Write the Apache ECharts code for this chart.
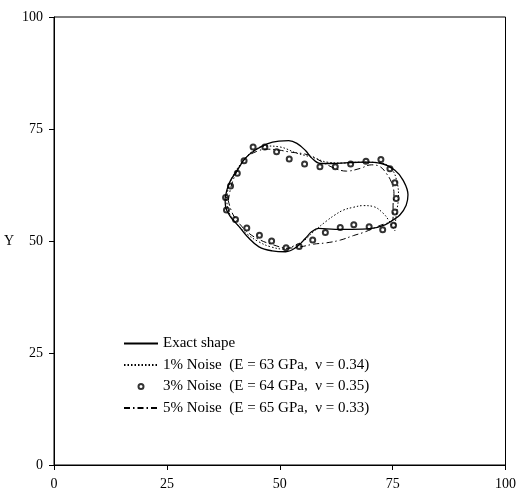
<!DOCTYPE html>
<html><head><meta charset="utf-8">
<script src="https://cdn.jsdelivr.net/npm/echarts@6/dist/echarts.min.js"></script>
<style>html,body{margin:0;padding:0;background:#fff}#c{width:519px;height:492px}</style>
</head><body><div id="c"></div>
<script>
var seriesNames = ['Exact shape', '1% Noise  (E = 63 GPa,  ν = 0.34)', '3% Noise  (E = 64 GPa,  ν = 0.35)', '5% Noise  (E = 65 GPa,  ν = 0.33)'];
var axisTicks = [0, 25, 50, 75, 100];

var exactShape = [[37.9,59.5],[38.8,62.9],[40.6,65.8],[42.4,68.5],[44.6,70.3],[47.2,71.7],[49.8,72.3],[52.0,72.4],[53.8,71.8],[55.7,70.2],[57.1,68.5],[59.0,67.3],[61.5,67.3],[65.2,67.5],[68.9,67.6],[72.5,67.3],[75.5,65.8],[77.3,63.6],[78.4,60.3],[78.0,58.0],[76.6,55.8],[75.1,54.7],[73.3,53.6],[70.3,52.8],[65.9,52.6],[62.3,52.6],[58.6,52.8],[57.1,52.1],[55.7,50.6],[53.8,48.7],[51.3,47.6],[48.3,47.8],[45.4,48.7],[42.8,51.0],[41.0,53.2],[39.1,55.4],[38.0,57.7],[37.9,59.5]];

var noise1 = [[38.2,59.5],[38.8,62.5],[40.2,65.5],[42.0,68.0],[44.2,70.2],[47.0,71.2],[50.0,71.0],[53.8,69.6],[57.5,68.6],[60.5,67.6],[64.0,67.4],[68.0,67.6],[72.0,67.5],[74.8,66.0],[76.0,63.0],[76.3,60.0],[75.9,56.5],[75.6,54.0],[75.5,52.3],[74.2,54.5],[72.9,56.2],[70.7,57.7],[68.5,57.9],[66.2,57.5],[64.1,56.9],[62.2,55.8],[60.4,54.5],[57.5,52.1],[55.5,50.2],[53.1,48.9],[50.9,48.2],[48.0,48.7],[45.4,49.8],[42.7,51.6],[40.5,53.8],[38.8,56.3],[38.2,59.5]];

var noise3 = [[44.1,71.0],[46.7,71.0],[49.3,69.9],[52.1,68.3],[55.5,67.2],[58.9,66.6],[62.3,66.6],[65.7,67.2],[69.1,67.8],[72.4,68.2],[74.4,66.1],[75.5,63.0],[75.8,59.5],[75.5,56.5],[75.2,53.5],[72.8,52.5],[69.8,53.2],[66.4,53.6],[63.4,53.0],[60.1,51.9],[57.3,50.2],[54.3,48.8],[51.4,48.5],[48.2,50.0],[45.5,51.3],[42.7,52.9],[40.2,54.8],[38.2,56.9],[38.0,59.7],[39.1,62.3],[40.6,65.1],[42.1,67.9]];

var noise5 = [[38.6,59.0],[39.4,62.8],[40.8,66.0],[42.4,68.5],[44.9,70.0],[47.2,70.5],[49.8,70.3],[52.0,69.9],[56.4,69.2],[59.3,67.7],[62.0,66.3],[64.8,65.6],[67.8,66.2],[70.3,67.0],[72.2,66.6],[73.6,65.1],[74.7,63.2],[75.3,60.6],[75.1,58.0],[75.1,55.1],[71.8,53.3],[68.5,51.9],[66.3,51.2],[63.4,50.2],[60.4,49.6],[57.5,49.3],[54.6,48.7],[51.6,48.4],[48.7,49.1],[45.7,50.2],[43.2,51.7],[41.3,53.6],[39.6,56.0],[38.6,59.0]];

var font = 'Liberation Serif';
var chart = echarts.init(document.getElementById('c'), null, {renderer: 'canvas'});
var axisCommon = {
  type: 'value', min: 0, max: 100, interval: 25,
  axisLine: {show: true, onZero: false, lineStyle: {color: '#000', width: 1}},
  axisTick: {show: true, inside: false, length: 5, lineStyle: {color: '#000'}},
  splitLine: {show: false},
  axisLabel: {color: '#000', fontFamily: font, fontSize: 14, margin: 11,
    formatter: function (v) { return axisTicks.indexOf(v) >= 0 ? String(v) : ''; }}
};
var hideSym = {opacity: 0};
chart.setOption({
  animation: false,
  backgroundColor: '#fff',
  grid: {left: 54, right: 11, top: 17, bottom: 27, show: true, borderColor: '#000', borderWidth: 1, backgroundColor: 'transparent'},
  xAxis: Object.assign({}, axisCommon, {axisLabel: Object.assign({}, axisCommon.axisLabel, {margin: 12})}),
  yAxis: Object.assign({}, axisCommon, {
    name: 'Y', nameLocation: 'middle', nameRotate: 0, nameGap: 40,
    nameTextStyle: {color: '#000', fontFamily: font, fontSize: 14}
  }),
  legend: {
    orient: 'vertical', left: 118, top: 331,
    itemWidth: 34, itemHeight: 5, itemGap: 6.5,
    textStyle: {color: '#000', fontFamily: font, fontSize: 15},
    data: [
      {name: seriesNames[0], itemStyle: hideSym},
      {name: seriesNames[1], itemStyle: hideSym},
      {name: seriesNames[2]},
      {name: seriesNames[3], itemStyle: hideSym}
    ]
  },
  series: [
    {name: seriesNames[0], type: 'line', data: exactShape, smooth: 0.4, showSymbol: false, symbol: 'none',
      lineStyle: {color: '#000', width: 1.3, type: 'solid'}, itemStyle: {color: '#000'}},
    {name: seriesNames[1], type: 'line', data: noise1, smooth: 0.4, showSymbol: false, symbol: 'none',
      lineStyle: {color: '#000', width: 1, type: [1.5, 2]}, itemStyle: {color: '#000'}},
    {name: seriesNames[2], type: 'scatter', data: noise3, symbol: 'emptyCircle', symbolSize: 5,
      itemStyle: {color: '#000', borderColor: '#000', borderWidth: 1.2}},
    {name: seriesNames[3], type: 'line', data: noise5, smooth: 0.4, showSymbol: false, symbol: 'none',
      lineStyle: {color: '#000', width: 1, type: [6, 3, 1.5, 3]}, itemStyle: {color: '#000'}}
  ]
});
</script></body></html>
